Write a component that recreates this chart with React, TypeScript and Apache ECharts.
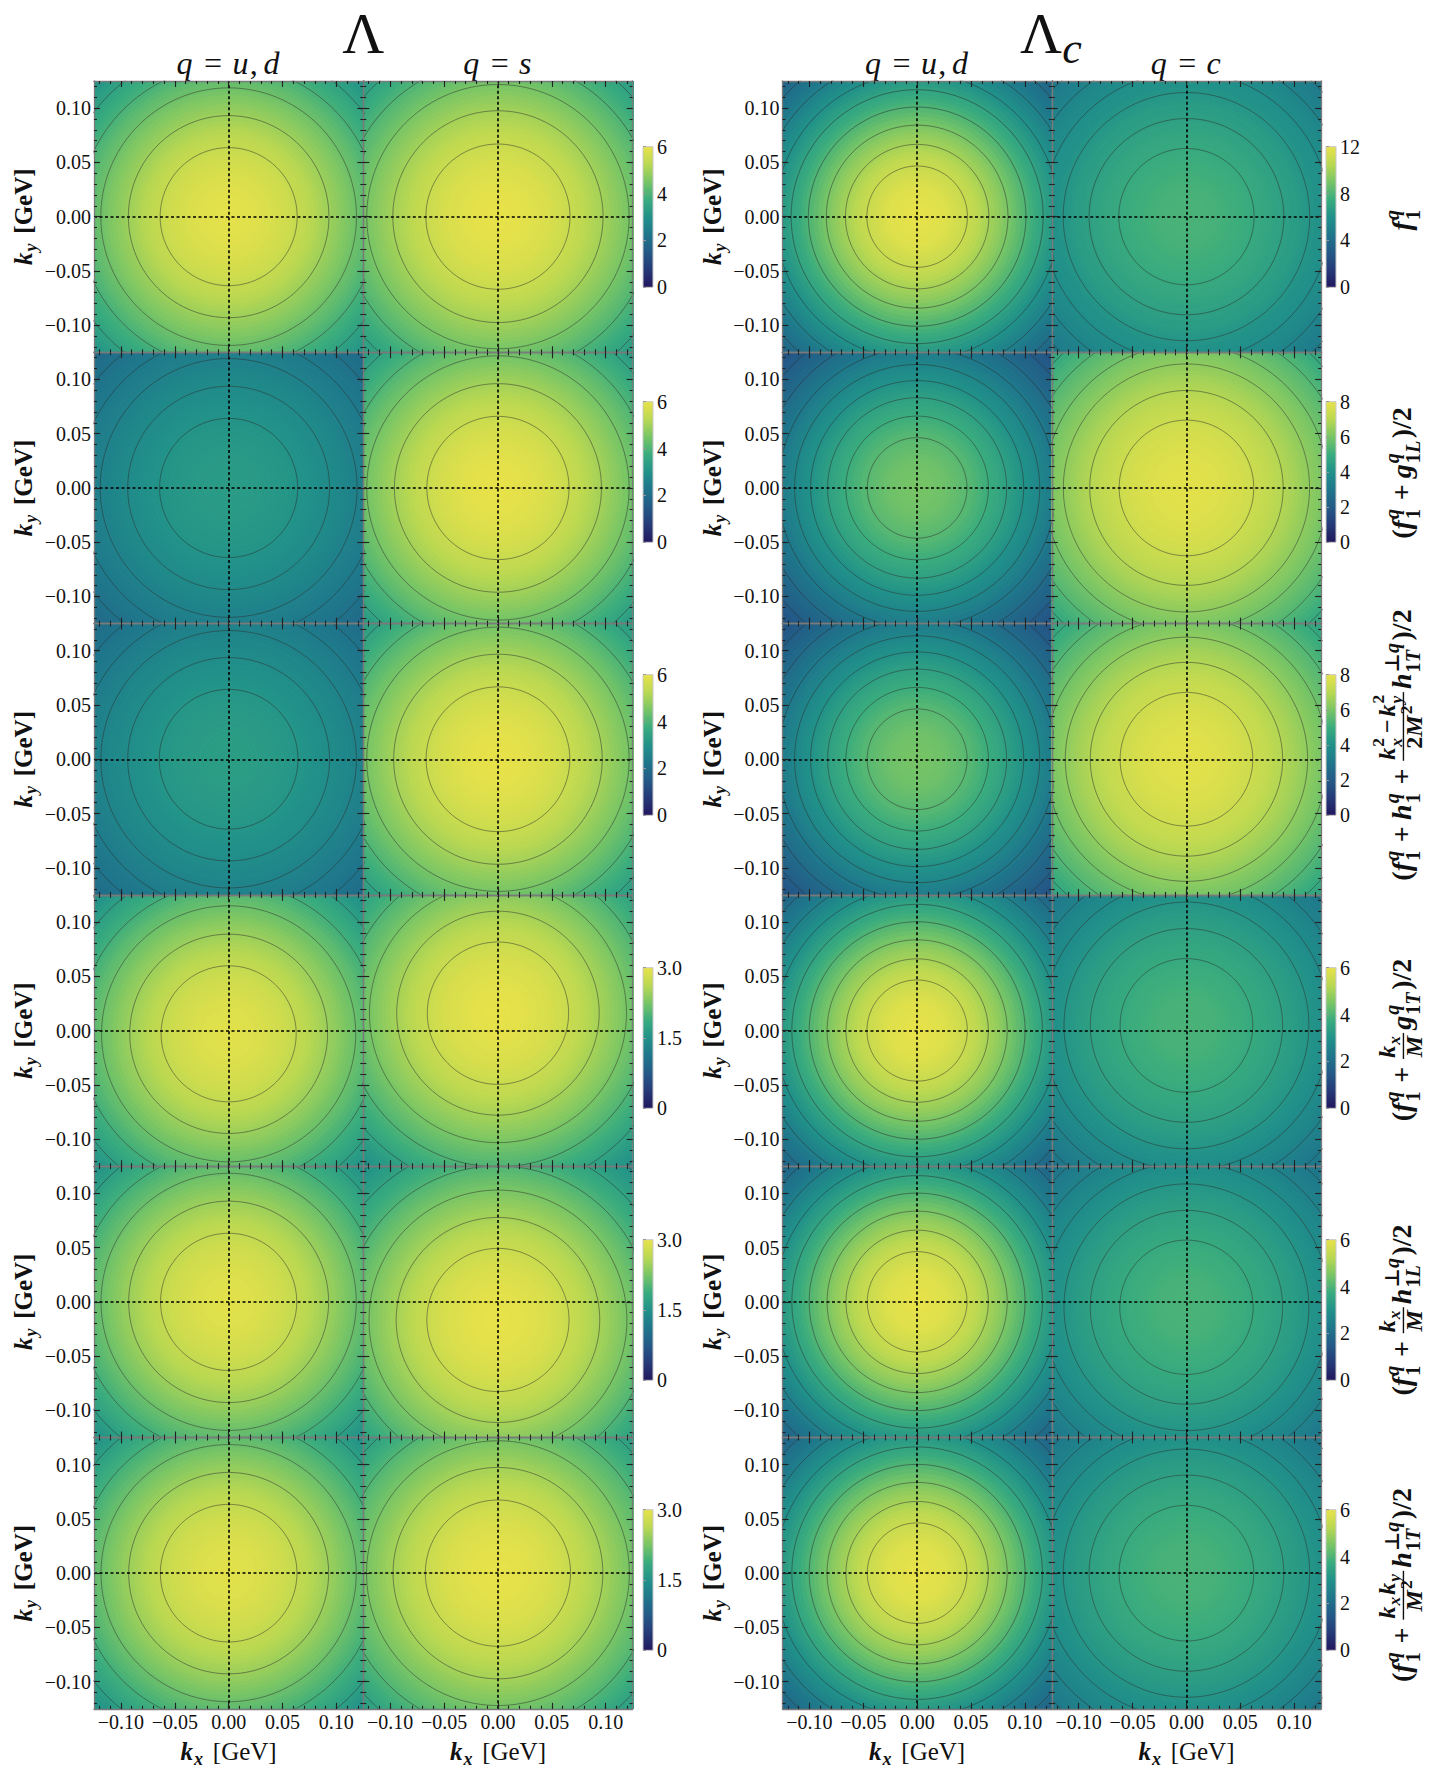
import React, { useEffect, useRef } from "react";
import * as echarts from "echarts";

// ---------------- data ----------------
// radial sample points (GeV) of every density profile
const K_RADII = [0, 0.025, 0.05, 0.075, 0.1, 0.125, 0.15, 0.175, 0.2];

// Lambda, q = u,d / q = s
const LAM_UD_F1 = [5.95, 5.87, 5.64, 5.27, 4.78, 4.24, 3.66, 3.07, 2.52];
const LAM_S_F1 = [6.0, 5.93, 5.72, 5.38, 4.94, 4.43, 3.88, 3.31, 2.76];
const LAM_UD_G1L = [3.3, 3.26, 3.16, 2.99, 2.77, 2.51, 2.22, 1.92, 1.63];
const LAM_S_G1L = [6.0, 5.93, 5.71, 5.36, 4.91, 4.39, 3.83, 3.26, 2.7];
const LAM_UD_H1 = [3.35, 3.31, 3.21, 3.04, 2.82, 2.56, 2.27, 1.98, 1.68];
const LAM_S_H1 = [6.0, 5.93, 5.71, 5.37, 4.93, 4.42, 3.86, 3.3, 2.74];
const LAM_UD_G1T = [2.95, 2.91, 2.79, 2.61, 2.37, 2.09, 1.8, 1.5, 1.22];
const LAM_S_G1T = [3.0, 2.96, 2.85, 2.68, 2.45, 2.19, 1.9, 1.62, 1.34];
const LAM_UD_H1L = [2.95, 2.91, 2.79, 2.61, 2.38, 2.1, 1.81, 1.51, 1.23];
const LAM_S_H1L = [3.0, 2.96, 2.86, 2.68, 2.46, 2.2, 1.91, 1.63, 1.35];
const LAM_UD_H1T = [2.95, 2.91, 2.79, 2.61, 2.38, 2.1, 1.81, 1.51, 1.23];
const LAM_S_H1T = [3.0, 2.96, 2.86, 2.69, 2.48, 2.22, 1.95, 1.66, 1.39];
// Lambda_c, q = u,d / q = c
const LC_UD_F1 = [12.0, 11.7, 10.86, 9.59, 8.06, 6.44, 4.9, 3.54, 2.44];
const LC_C_F1 = [7.9, 7.82, 7.56, 7.16, 6.64, 6.0, 5.33, 4.62, 3.92];
const LC_UD_G1L = [6.0, 5.85, 5.43, 4.8, 4.03, 3.22, 2.45, 1.77, 1.22];
const LC_C_G1L = [7.9, 7.82, 7.58, 7.19, 6.68, 6.08, 5.42, 4.73, 4.04];
const LC_UD_H1 = [6.0, 5.85, 5.43, 4.8, 4.03, 3.22, 2.45, 1.77, 1.22];
const LC_C_H1 = [7.9, 7.82, 7.57, 7.17, 6.65, 6.03, 5.36, 4.66, 3.96];
const LC_UD_G1T = [6.0, 5.85, 5.43, 4.8, 4.03, 3.22, 2.45, 1.77, 1.22];
const LC_C_G1T = [3.95, 3.91, 3.77, 3.57, 3.3, 2.97, 2.62, 2.26, 1.91];
const LC_UD_H1L = [6.0, 5.85, 5.43, 4.8, 4.03, 3.22, 2.45, 1.77, 1.22];
const LC_C_H1L = [3.95, 3.91, 3.77, 3.57, 3.3, 2.97, 2.62, 2.26, 1.91];
const LC_UD_H1T = [6.0, 5.85, 5.43, 4.8, 4.03, 3.22, 2.45, 1.77, 1.22];
const LC_C_H1T = [3.95, 3.91, 3.78, 3.58, 3.31, 3.0, 2.65, 2.3, 1.95];

// contour-line radii (GeV)
const LAM_UD_F1_C = [0.0636, 0.0931, 0.1187, 0.139, 0.158, 0.178];
const LAM_S_F1_C = [0.0669, 0.0976, 0.1218, 0.1444, 0.1666, 0.189];
const LAM_UD_G1L_C = [0.0641, 0.0937, 0.1192, 0.139, 0.158, 0.178];
const LAM_S_G1L_C = [0.066, 0.0961, 0.1218, 0.1424, 0.1643, 0.186];
const LAM_UD_H1_C = [0.0644, 0.0937, 0.1186, 0.139, 0.158, 0.178];
const LAM_S_H1_C = [0.0667, 0.0968, 0.1218, 0.1439, 0.166, 0.188];
const LAM_UD_G1T_C = [0.0627, 0.0918, 0.118, 0.139, 0.159, 0.178];
const LAM_S_G1T_C = [0.0656, 0.094, 0.1193, 0.1416, 0.1633, 0.185];
const LAM_UD_H1L_C = [0.0632, 0.0928, 0.1185, 0.1395, 0.16, 0.179];
const LAM_S_H1L_C = [0.066, 0.0945, 0.1197, 0.142, 0.164, 0.186];
const LAM_UD_H1T_C = [0.0634, 0.0928, 0.1185, 0.1395, 0.16, 0.179];
const LAM_S_H1T_C = [0.0674, 0.0974, 0.122, 0.1446, 0.167, 0.189];
const LC_UD_F1_C = [0.0467, 0.0666, 0.0843, 0.101, 0.117, 0.132, 0.148, 0.166, 0.187];
const LC_C_F1_C = [0.0628, 0.0904, 0.1144, 0.1335, 0.1522, 0.1708, 0.19];
const LC_UD_G1L_C = [0.0463, 0.0662, 0.0831, 0.0989, 0.1138, 0.129, 0.145, 0.162, 0.18];
const LC_C_G1L_C = [0.0625, 0.0898, 0.1143, 0.132, 0.1507, 0.1689, 0.187];
const LC_UD_H1_C = [0.0464, 0.0662, 0.0831, 0.0989, 0.1138, 0.129, 0.145, 0.162, 0.18];
const LC_C_H1_C = [0.0616, 0.0893, 0.1125, 0.131, 0.149, 0.167, 0.186];
const LC_UD_G1T_C = [0.0466, 0.0661, 0.0836, 0.1002, 0.1163, 0.132, 0.148, 0.166, 0.187];
const LC_C_G1T_C = [0.0616, 0.0893, 0.1137, 0.1335, 0.152, 0.17, 0.188];
const LC_UD_H1L_C = [0.0463, 0.0661, 0.0836, 0.1002, 0.1163, 0.132, 0.148, 0.166, 0.187];
const LC_C_H1L_C = [0.0619, 0.0893, 0.1137, 0.1335, 0.152, 0.17, 0.188];
const LC_UD_H1T_C = [0.0463, 0.0661, 0.0836, 0.1002, 0.1163, 0.132, 0.148, 0.166, 0.187];
const LC_C_H1T_C = [0.0625, 0.0904, 0.1144, 0.1335, 0.1522, 0.1708, 0.19];

// position of the maximum along k_y (GeV), per row
const PEAK_KY_LAM_UD = [0, 0, 0, -0.003, 0, 0];
const PEAK_KY_LAM_S = [0, 0, 0, 0.016, -0.0167, 0];
const PEAK_KY_LC_UD = [0, 0, 0, 0, 0, 0];
const PEAK_KY_LC_C = [0, 0, 0, 0.0047, -0.005, 0];

// colour bars
const CB_MAX_LAM = [6, 6, 6, 3, 3, 3];
const CB_STEP_LAM = [2, 2, 2, 1.5, 1.5, 1.5];
const CB_MAX_LC = [12, 8, 8, 6, 6, 6];
const CB_STEP_LC = [4, 2, 2, 2, 2, 2];

// axis ticks
const K_MIN = -0.125;
const K_MAX = 0.125;
const MAJOR_TICKS = [-0.1, -0.05, 0, 0.05, 0.1];
const MINOR_TICKS = [
  -0.12, -0.11, -0.1, -0.09, -0.08, -0.07, -0.06, -0.05, -0.04, -0.03, -0.02, -0.01, 0,
  0.01, 0.02, 0.03, 0.04, 0.05, 0.06, 0.07, 0.08, 0.09, 0.1, 0.11, 0.12,
];

const CMAP = [
  "#22175e", "#253a78", "#245a87", "#1f768b", "#21918a",
  "#3aac7e", "#78c566", "#bad852", "#e8e24a",
];

// ---------------- layout ----------------
const BLOCK_X = [94, 782.5];
const PW = 269.3;
const ROW_TOP = 81;
const PH = 271.3;
const CB_X = [643, 1326];
const CB_W = 10;
const CB_H = 140.6;
const CB_CY = [217, 472, 745, 1038, 1310, 1580];
const FORMULA_CY = [219, 473, 745, 1040, 1310, 1585];
const FF = "Liberation Serif, DejaVu Serif, serif";

const PROFILES = [
  [LAM_UD_F1, LAM_S_F1, LC_UD_F1, LC_C_F1],
  [LAM_UD_G1L, LAM_S_G1L, LC_UD_G1L, LC_C_G1L],
  [LAM_UD_H1, LAM_S_H1, LC_UD_H1, LC_C_H1],
  [LAM_UD_G1T, LAM_S_G1T, LC_UD_G1T, LC_C_G1T],
  [LAM_UD_H1L, LAM_S_H1L, LC_UD_H1L, LC_C_H1L],
  [LAM_UD_H1T, LAM_S_H1T, LC_UD_H1T, LC_C_H1T],
];
const CONTOURS = [
  [LAM_UD_F1_C, LAM_S_F1_C, LC_UD_F1_C, LC_C_F1_C],
  [LAM_UD_G1L_C, LAM_S_G1L_C, LC_UD_G1L_C, LC_C_G1L_C],
  [LAM_UD_H1_C, LAM_S_H1_C, LC_UD_H1_C, LC_C_H1_C],
  [LAM_UD_G1T_C, LAM_S_G1T_C, LC_UD_G1T_C, LC_C_G1T_C],
  [LAM_UD_H1L_C, LAM_S_H1L_C, LC_UD_H1L_C, LC_C_H1L_C],
  [LAM_UD_H1T_C, LAM_S_H1T_C, LC_UD_H1T_C, LC_C_H1T_C],
];
const PEAKS = [PEAK_KY_LAM_UD, PEAK_KY_LAM_S, PEAK_KY_LC_UD, PEAK_KY_LC_C];

function profileAt(prof: number[], r: number) {
  for (let i = 0; i < K_RADII.length - 1; i++) {
    if (r <= K_RADII[i + 1]) {
      const t = (r - K_RADII[i]) / (K_RADII[i + 1] - K_RADII[i]);
      return prof[i] + t * (prof[i + 1] - prof[i]);
    }
  }
  return prof[prof.length - 1];
}

// ---------------- math-like text layout ----------------
type P =
  | { k: "t"; t: string; it?: boolean; b?: boolean; sc?: number; dy?: number }
  | { k: "ss"; sub?: P[]; sup?: P[] }
  | { k: "fr"; num: P[]; den: P[] }
  | { k: "sp"; w: number };
const T = (t: string, it = false, extra: any = {}): P => ({ k: "t", t, it, ...extra });
const SS = (sub?: P[], sup?: P[]): P => ({ k: "ss", sub, sup });
const FR = (num: P[], den: P[]): P => ({ k: "fr", num, den });
const SP = (w: number): P => ({ k: "sp", w });

let mctx: CanvasRenderingContext2D | null = null;
function measure(text: string, size: number, it: boolean, b: boolean) {
  if (!mctx) mctx = document.createElement("canvas").getContext("2d");
  if (!mctx) return text.length * size * 0.5;
  mctx.font = `${it ? "italic " : ""}${b ? "bold " : ""}${size}px ${FF}`;
  return mctx.measureText(text).width;
}

function lay(ps: P[], size: number, x: number, base: number, out: any[] | null, bold: boolean): number {
  for (const p of ps) {
    if (p.k === "t") {
      const s = size * (p.sc ?? 1);
      const b = p.b ?? bold;
      const w = measure(p.t, s, !!p.it, b);
      const yb = base + (p.dy ?? 0) * size;
      if (out)
        out.push({
          type: "text",
          x,
          y: yb - 0.34 * s,
          silent: true,
          style: {
            text: p.t, fontSize: s, fontFamily: FF,
            fontStyle: p.it ? "italic" : "normal", fontWeight: b ? "bold" : "normal",
            fill: "#111", align: "left", verticalAlign: "middle",
          },
        });
      x += w + (p.it ? s * 0.04 : 0);
    } else if (p.k === "sp") {
      x += p.w * size;
    } else if (p.k === "ss") {
      const s2 = size * 0.72;
      const both = !!(p.sub && p.sup);
      let w = 0;
      if (p.sup) w = Math.max(w, lay(p.sup, s2, x, base - 0.42 * size, out, bold) - x);
      if (p.sub) w = Math.max(w, lay(p.sub, s2, x, base + (both ? 0.32 : 0.22) * size, out, bold) - x);
      x += w + size * 0.06;
    } else {
      const s2 = size * 0.86;
      const wn = lay(p.num, s2, 0, 0, null, bold);
      const wd = lay(p.den, s2, 0, 0, null, bold);
      const W = Math.max(wn, wd) + size * 0.2;
      const axis = base - 0.27 * size;
      lay(p.num, s2, x + (W - wn) / 2, axis - 0.1 * size - 0.24 * s2, out, bold);
      lay(p.den, s2, x + (W - wd) / 2, axis + 0.08 * size + 0.7 * s2, out, bold);
      if (out)
        out.push({
          type: "line", silent: true,
          shape: { x1: x + size * 0.06, y1: axis, x2: x + W - size * 0.06, y2: axis },
          style: { stroke: "#111", lineWidth: 1.4 },
        });
      x += W + size * 0.05;
    }
  }
  return x;
}

function textBlock(ps: P[], size: number, bold: boolean, cx: number, baseY: number, rotate: boolean) {
  const W = lay(ps, size, 0, 0, null, bold);
  const children: any[] = [];
  lay(ps, size, -W / 2, 0, children, bold);
  return { type: "group", x: cx, y: baseY, rotation: rotate ? Math.PI / 2 : 0, silent: true, z: 20, children };
}

const f1q: P[] = [T("f", true), SS([T("1")], [T("q", true)])];
const PLUS: P[] = [SP(0.22), T("+"), SP(0.22)];
const CLOSE: P[] = [T(")"), T("/"), T("2")];
const kx: P[] = [T("k", true), SS([T("x", true)])];
const FORMULAS: P[][] = [
  f1q,
  [T("("), ...f1q, ...PLUS, T("g", true), SS([T("1"), T("L", true)], [T("q", true)]), ...CLOSE],
  [
    T("("), ...f1q, ...PLUS, T("h", true), SS([T("1")], [T("q", true)]), ...PLUS,
    FR(
      [T("k", true), SS([T("x", true)], [T("2")]), SP(0.12), T("\u2212"), SP(0.12), T("k", true), SS([T("y", true)], [T("2")])],
      [T("2"), T("M", true), SS(undefined, [T("2")])]
    ),
    T("h", true), SS([T("1"), T("T", true)], [T("\u22A5"), T("q", true)]), ...CLOSE,
  ],
  [T("("), ...f1q, ...PLUS, FR(kx, [T("M", true)]), T("g", true), SS([T("1"), T("T", true)], [T("q", true)]), ...CLOSE],
  [T("("), ...f1q, ...PLUS, FR(kx, [T("M", true)]), T("h", true), SS([T("1"), T("L", true)], [T("\u22A5"), T("q", true)]), ...CLOSE],
  [
    T("("), ...f1q, ...PLUS,
    FR([T("k", true), SS([T("x", true)]), T("k", true), SS([T("y", true)])], [T("M", true), SS(undefined, [T("2")])]),
    T("h", true), SS([T("1"), T("T", true)], [T("\u22A5"), T("q", true)]), ...CLOSE,
  ],
];

const fmtK = (v: number) => (v < -1e-9 ? "\u2212" : "") + Math.abs(v).toFixed(2);

function buildOption() {
  const grid: any[] = [];
  const xAxis: any[] = [];
  const yAxis: any[] = [];
  const series: any[] = [];
  const visualMap: any[] = [];
  const graphic: any[] = [];

  const mkAxis = (pos: string, gi: number, major: boolean, labels: boolean) => ({
    type: "value", gridIndex: gi, position: pos, min: K_MIN, max: K_MAX, z: 10,
    axisLine: { show: major, onZero: false, lineStyle: { color: "#7a7a7a", width: 1.3 } },
    axisTick: {
      show: true, inside: true, length: major ? 6 : 3,
      customValues: major ? MAJOR_TICKS : MINOR_TICKS,
      lineStyle: { color: "#222", width: 1.1 },
    },
    axisLabel: {
      show: labels, customValues: MAJOR_TICKS, formatter: fmtK,
      fontFamily: FF, fontSize: 20, color: "#111", margin: 3,
    },
    splitLine: { show: false },
    silent: true,
  });

  for (let row = 0; row < 6; row++) {
    for (let block = 0; block < 2; block++) {
      const vmax = block === 0 ? CB_MAX_LAM[row] : CB_MAX_LC[row];
      for (let col = 0; col < 2; col++) {
        const idx = block * 2 + col;
        const prof = PROFILES[row][idx];
        const cont = CONTOURS[row][idx];
        const ky0 = PEAKS[idx][row];
        const gi = grid.length;
        grid.push({ left: BLOCK_X[block] + col * PW, top: ROW_TOP + row * PH, width: PW, height: PH });
        const xi = xAxis.length;
        xAxis.push(
          mkAxis("bottom", gi, true, row === 5),
          mkAxis("bottom", gi, false, false),
          mkAxis("top", gi, true, false),
          mkAxis("top", gi, false, false)
        );
        const yi = yAxis.length;
        yAxis.push(
          mkAxis("left", gi, true, col === 0),
          mkAxis("left", gi, false, false),
          mkAxis("right", gi, true, false),
          mkAxis("right", gi, false, false)
        );
        // filled density bands
        const bands: number[][] = [];
        const STEP = 0.004;
        for (let j = 50; j >= 1; j--) {
          const r = j * STEP;
          bands.push([0, ky0, profileAt(prof, r - STEP / 2), r]);
        }
        const si = series.length;
        series.push({
          type: "custom", xAxisIndex: xi, yAxisIndex: yi, clip: true, silent: true, z: 1,
          dimensions: ["kx", "ky", "v", "r"], encode: { x: 0, y: 1 },
          data: bands,
          renderItem: (params: any, api: any) => {
            const c = api.coord([api.value(0), api.value(1)]);
            const s = api.size([api.value(3), api.value(3)]);
            const col2 = api.visual("color");
            return {
              type: "ellipse",
              shape: { cx: c[0], cy: c[1], rx: s[0], ry: s[1] },
              style: { fill: col2, stroke: col2, lineWidth: 0.6 },
            };
          },
        });
        visualMap.push({
          type: "continuous", show: false, min: 0, max: vmax, dimension: 2, seriesIndex: si,
          inRange: { color: CMAP },
        });
        // contour lines
        const pts: number[][] = [];
        for (const R of cont) {
          for (let t = 0; t <= 144; t++) {
            const a = (t / 144) * Math.PI * 2;
            pts.push([R * Math.cos(a), ky0 + R * Math.sin(a)]);
          }
          pts.push([NaN, NaN]);
        }
        series.push({
          type: "line", xAxisIndex: xi, yAxisIndex: yi, data: pts, symbol: "none", showSymbol: false,
          clip: true, silent: true, z: 3, connectNulls: false,
          lineStyle: { color: "rgba(45,45,45,0.55)", width: 0.9 },
          markLine: {
            silent: true, symbol: ["none", "none"], label: { show: false },
            lineStyle: { color: "#000", type: [3, 2.5], width: 1.6 },
            data: [{ xAxis: 0 }, { yAxis: 0 }],
          },
        });
      }
      // colour bar
      const step = block === 0 ? CB_STEP_LAM[row] : CB_STEP_LC[row];
      const gi = grid.length;
      grid.push({ left: CB_X[block], top: CB_CY[row] - CB_H / 2, width: CB_W, height: CB_H });
      const xi = xAxis.length;
      xAxis.push({ type: "value", gridIndex: gi, min: 0, max: 1, show: false });
      const yi = yAxis.length;
      yAxis.push({
        type: "value", gridIndex: gi, position: "right", min: 0, max: vmax, interval: step, z: 10,
        axisLine: { show: false },
        axisTick: { show: true, inside: false, length: 3, lineStyle: { color: "#999" } },
        axisLabel: {
          fontFamily: FF, fontSize: 20, color: "#111", margin: 4,
          formatter: (v: number) => (v === 0 ? "0" : step % 1 !== 0 ? v.toFixed(1) : String(v)),
        },
        splitLine: { show: false }, silent: true,
      });
      series.push({
        type: "custom", xAxisIndex: xi, yAxisIndex: yi, silent: true, z: 2,
        data: [[0, vmax]],
        renderItem: (params: any, api: any) => {
          const p0 = api.coord([0, api.value(1)]);
          const p1 = api.coord([1, 0]);
          return {
            type: "rect",
            shape: { x: p0[0], y: p0[1], width: p1[0] - p0[0], height: p1[1] - p0[1] },
            style: {
              fill: new echarts.graphic.LinearGradient(0, 1, 0, 0,
                CMAP.map((c, i) => ({ offset: i / (CMAP.length - 1), color: c }))),
              stroke: "#c8c8c8", lineWidth: 1,
            },
          };
        },
      });
    }
  }

  // titles
  graphic.push(textBlock([T("\u039B")], 58, false, BLOCK_X[0] + PW, 53, false));
  graphic.push(textBlock([T("\u039B"), T("c", true, { sc: 0.76, dy: 0.18 })], 58, false, BLOCK_X[1] + PW, 53, false));
  const colTitles: P[][] = [
    [T("q", true), SP(0.32), T("="), SP(0.32), T("u", true), T(","), SP(0.18), T("d", true)],
    [T("q", true), SP(0.32), T("="), SP(0.32), T("s", true)],
    [T("q", true), SP(0.32), T("="), SP(0.32), T("u", true), T(","), SP(0.18), T("d", true)],
    [T("q", true), SP(0.32), T("="), SP(0.32), T("c", true)],
  ];
  for (let i = 0; i < 4; i++) {
    const cx = BLOCK_X[Math.floor(i / 2)] + (i % 2) * PW + PW / 2;
    graphic.push(textBlock(colTitles[i], 32, false, cx, 74, false));
  }
  // axis names
  const kyName: P[] = [T("k", true), SS([T("y", true)]), SP(0.3), T("[GeV]")];
  const kxName: P[] = [T("k", true, { b: true }), SS([T("x", true, { b: true })]), SP(0.3), T("[GeV]")];
  for (let row = 0; row < 6; row++) {
    for (let block = 0; block < 2; block++) {
      graphic.push(textBlock(kyName, 25, true, BLOCK_X[block] - 62, ROW_TOP + row * PH + PH / 2, true));
    }
  }
  for (let i = 0; i < 4; i++) {
    const cx = BLOCK_X[Math.floor(i / 2)] + (i % 2) * PW + PW / 2;
    graphic.push(textBlock(kxName, 25, false, cx, 1760, false));
  }
  // right-hand labels
  for (let row = 0; row < 6; row++) {
    graphic.push(textBlock(FORMULAS[row], 28, true, 1411, FORMULA_CY[row], true));
  }

  return {
    animation: false,
    backgroundColor: "#ffffff",
    grid, xAxis, yAxis, series, visualMap,
    graphic: { elements: graphic },
  };
}

export default function App() {
  const ref = useRef<HTMLDivElement>(null);
  useEffect(() => {
    if (!ref.current) return;
    const chart = echarts.init(ref.current, undefined, { renderer: "svg" });
    chart.setOption(buildOption() as any);
    return () => chart.dispose();
  }, []);
  return (
    <div
      ref={ref}
      style={{ position: "absolute", left: 0, top: 0, width: 1435, height: 1775, background: "#fff" }}
    />
  );
}
